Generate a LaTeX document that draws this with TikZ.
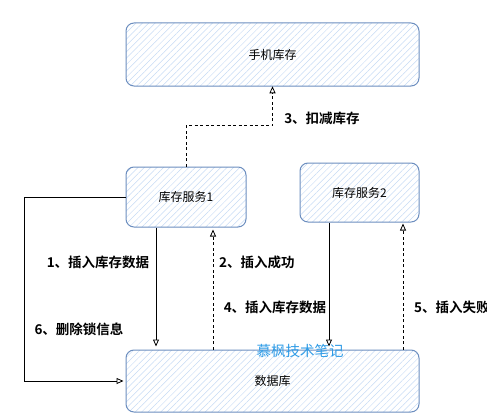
\documentclass[tikz,border=0pt]{standalone}
\usepackage{fontspec}
\setmainfont{Noto Sans CJK SC}[BoldFont={Noto Sans CJK SC Bold}]
\usetikzlibrary{arrows.meta, patterns.meta, calc}
\definecolor{boxline}{HTML}{6C8EBF}
\definecolor{boxhatch}{HTML}{C6DAF4}
\definecolor{markblue}{HTML}{2E9BE6}

\begin{document}
\begin{tikzpicture}[x=1pt, y=-1pt,
		box/.style={draw=boxline, line width=1pt, rounded corners=8pt, inner sep=0pt,
			pattern={Lines[angle=45,distance=4.5pt,line width=0.5pt]}, pattern color=boxhatch,
			font=\fontsize{12}{14}\selectfont},
		call/.style={draw=black, line width=0.8pt, -{Triangle[open,length=7pt,width=6pt]}},
		reply/.style={call, dash pattern=on 3pt off 2.5pt},
		step label/.style={font=\bfseries\fontsize{13.5}{16}\selectfont, inner sep=0pt}]
	\useasboundingbox (0,0) rectangle (487,420);
	\node[box, minimum width=293pt, minimum height=63pt] (stock) at (272.5,54.5) {手机库存};
	\node[box, minimum width=120pt, minimum height=60pt] (svc1) at (186,197) {库存服务1};
	\node[box, minimum width=119pt, minimum height=59pt] (svc2) at (359.5,192.5) {库存服务2};
	\node[box, minimum width=293pt, minimum height=62pt] (db) at (272.5,381) {数据库};

	\draw[reply] (svc1.north) -- ++(0,-41) -| (stock.south);
	\draw[call] ($(svc1.south)+(-30,0)$) -- ($(db.north)+(-116.5,-3)$);
	\draw[reply] ($(db.north)+(-59.5,0)$) -- ($(svc1.south)+(27,2)$);
	\draw[call] ($(svc2.south)+(-30.5,0)$) -- ($(db.north)+(56.5,-3)$);
	\draw[reply] ($(db.north)+(130.5,0)$) -- ($(svc2.south)+(43.5,1)$);
	\draw[call] (svc1.west) -- ++(-101,0) |- ($(db.west)+(-2,0)$);

	\node[step label] (l3) at (322,118) {3、扣减库存};
	\node[step label] (l1) at (98,262) {1、插入库存数据};
	\node[step label, anchor=west] (l2) at (219,262) {2、插入成功};
	\node[step label] (l4) at (275,307) {4、插入库存数据};
	\node[step label, anchor=west] (l5) at (414,307) {5、插入失败};
	\node[step label] (l6) at (79,329) {6、删除锁信息};
	\node[text=markblue, font=\fontsize{14.5}{16}\selectfont, inner sep=0pt] (wm) at (300,351) {慕枫技术笔记};
\end{tikzpicture}
\end{document}
